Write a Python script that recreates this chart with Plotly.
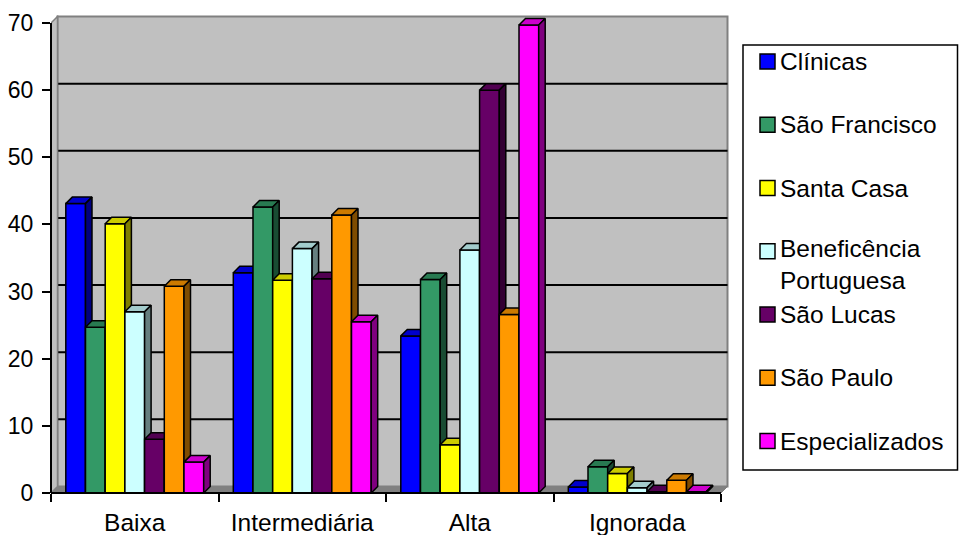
import plotly.graph_objects as go

# ---- data -------------------------------------------------------------
categorias = ["Baixa", "Intermediária", "Alta", "Ignorada"]
hospitais = ["Clínicas", "São Francisco", "Santa Casa",
             "Beneficência<br>Portuguesa", "São Lucas", "São Paulo",
             "Especializados"]

clinicas = [43.1, 32.8, 23.4, 0.9]
sao_francisco = [24.7, 42.6, 31.8, 3.9]
santa_casa = [40.1, 31.7, 7.2, 2.9]
beneficencia = [27.0, 36.4, 36.2, 0.8]
sao_lucas = [8.0, 31.9, 60.0, 0.2]
sao_paulo = [30.8, 41.4, 26.6, 1.9]
especializados = [4.6, 25.5, 69.7, 0.2]

series = [clinicas, sao_francisco, santa_casa, beneficencia,
          sao_lucas, sao_paulo, especializados]

y_ticks = [0, 10, 20, 30, 40, 50, 60, 70]

cores = ["#0000FF", "#339966", "#FFFF00", "#CCFFFF",
         "#660066", "#FF9900", "#FF00FF"]

# ---- geometry ----------------------------------------------------------
W, H = 959, 535
PX_L, PX_R, PX_T, PX_B = 51, 730, 15, 493      # plot area in pixels
X_MIN = -0.5
PX_PER_CAT = 167.5
X_MAX = X_MIN + (PX_R - PX_L) / PX_PER_CAT
Y_TOP = 70
PX_PER_UNIT = 470 / 70
Y_MAX = (PX_B - PX_T) / PX_PER_UNIT

DEPTH_PX = 6.5
DX = DEPTH_PX / PX_PER_CAT
DY = DEPTH_PX / PX_PER_UNIT
BAR_W = 19.7 / PX_PER_CAT
N = len(series)
GROUP_W = N * BAR_W

FONT = "Liberation Sans, Arial, Helvetica, sans-serif"
TEXT_SIZE = 24.5
NUM_SIZE = 23


def shade(hex_color, k):
    r, g, b = (int(hex_color[i:i + 2], 16) for i in (1, 3, 5))
    return "#%02x%02x%02x" % (int(r * k), int(g * k), int(b * k))


def px_to_paper_x(px):
    return (px - PX_L) / (PX_R - PX_L)


def px_to_paper_y(py):
    return (PX_B - py) / (PX_B - PX_T)


fig = go.Figure()

# ---- 3D-looking columns: front, top and side faces --------------------
for i, (vals, cor) in enumerate(zip(series, cores)):
    front_x, front_y, top_x, top_y, side_x, side_y = [], [], [], [], [], []
    for j, v in enumerate(vals):
        xl = j - GROUP_W / 2 + i * BAR_W
        xr = xl + BAR_W
        front_x += [xl, xr, xr, xl, xl, None]
        front_y += [0, 0, v, v, 0, None]
        top_x += [xl, xr, xr + DX, xl + DX, xl, None]
        top_y += [v, v, v + DY, v + DY, v, None]
        side_x += [xr, xr + DX, xr + DX, xr, xr, None]
        side_y += [0, DY, v + DY, v, 0, None]
    for fx, fy, fc in ((front_x, front_y, cor),
                       (top_x, top_y, shade(cor, 0.8)),
                       (side_x, side_y, shade(cor, 0.5))):
        fig.add_trace(go.Scatter(
            x=fx, y=fy, mode="lines", fill="toself", fillcolor=fc,
            line=dict(color="black", width=1.5), hoverinfo="skip",
            showlegend=False, name=hospitais[i].replace("<br>", " ")))

# ---- walls, floor and gridlines ---------------------------------------
shapes = []
shapes.append(dict(type="rect", layer="below", xref="x", yref="y",
                   x0=X_MIN + DX, x1=3.5 + DX, y0=DY, y1=Y_TOP + DY,
                   fillcolor="#C0C0C0", line=dict(color="#808080", width=2)))
for v in y_ticks[1:-1]:
    shapes.append(dict(type="line", layer="below", xref="x", yref="y",
                       x0=X_MIN + DX, x1=3.5 + DX, y0=v + DY, y1=v + DY,
                       line=dict(color="black", width=2)))
shapes.append(dict(type="path", layer="below", xref="x", yref="y",
                   path=f"M{X_MIN},0 L{X_MIN + DX},{DY} L{X_MIN + DX},{Y_TOP + DY} "
                        f"L{X_MIN},{Y_TOP} Z",
                   fillcolor="#C0C0C0", line=dict(color="#808080", width=1.5)))
shapes.append(dict(type="path", layer="below", xref="x", yref="y",
                   path=f"M{X_MIN},0 L3.5,0 L{3.5 + DX},{DY} L{X_MIN + DX},{DY} Z",
                   fillcolor="#808080", line=dict(color="#808080", width=1)))

# axis lines
shapes.append(dict(type="line", xref="paper", yref="paper",
                   x0=0, x1=0, y0=0, y1=Y_TOP / Y_MAX,
                   line=dict(color="black", width=2)))
shapes.append(dict(type="line", xref="paper", yref="paper",
                   x0=0, x1=(3.5 - X_MIN) / (X_MAX - X_MIN), y0=0, y1=0,
                   line=dict(color="black", width=2)))

# ---- legend box --------------------------------------------------------
shapes.append(dict(type="rect", xref="paper", yref="paper",
                   x0=px_to_paper_x(743), x1=px_to_paper_x(957.5),
                   y0=px_to_paper_y(470), y1=px_to_paper_y(45),
                   fillcolor="white", line=dict(color="black", width=1.5)))

annotations = []
ITEM_Y0, ITEM_STEP, SQ = 61.5, 63.25, 15
LINE_H = 26
for k, (nome, cor) in enumerate(zip(hospitais, cores)):
    cy = ITEM_Y0 + k * ITEM_STEP
    shapes.append(dict(type="rect", xref="paper", yref="paper",
                       x0=px_to_paper_x(760), x1=px_to_paper_x(760 + SQ),
                       y0=px_to_paper_y(cy + SQ / 2), y1=px_to_paper_y(cy - SQ / 2),
                       fillcolor=cor, line=dict(color="black", width=1.5)))
    n_lines = nome.count("<br>") + 1
    annotations.append(dict(
        xref="paper", yref="paper", x=px_to_paper_x(778),
        y=px_to_paper_y(cy + (n_lines - 1) * LINE_H / 2),
        xanchor="left", yanchor="middle", align="left", showarrow=False,
        text=nome, font=dict(family=FONT, size=TEXT_SIZE, color="black")))

fig.update_layout(
    width=W, height=H, autosize=False,
    margin=dict(l=PX_L, r=W - PX_R, t=PX_T, b=H - PX_B, pad=0,
                autoexpand=False),
    paper_bgcolor="white", plot_bgcolor="white",
    font=dict(family=FONT, size=TEXT_SIZE, color="black"),
    showlegend=False, hovermode=False,
    shapes=shapes, annotations=annotations,
    xaxis=dict(range=[X_MIN, X_MAX], tickvals=list(range(len(categorias))),
               ticktext=categorias, ticks="", showgrid=False, zeroline=False,
               showline=False, ticklabelstandoff=12, automargin=False,
               minor=dict(tickvals=[X_MIN + c for c in range(len(categorias) + 1)],
                          ticks="outside", ticklen=8, tickwidth=2,
                          tickcolor="black", showgrid=False),
               tickfont=dict(family=FONT, size=TEXT_SIZE, color="black"),
               fixedrange=True),
    yaxis=dict(range=[0, Y_MAX], tickvals=y_ticks, ticks="outside", ticklen=8,
               tickwidth=2, tickcolor="black", showgrid=False, zeroline=False,
               showline=False, ticklabelstandoff=4, automargin=False,
               tickfont=dict(family=FONT, size=NUM_SIZE, color="black"),
               fixedrange=True),
)

fig.write_html("out.html", config={"displayModeBar": False})
